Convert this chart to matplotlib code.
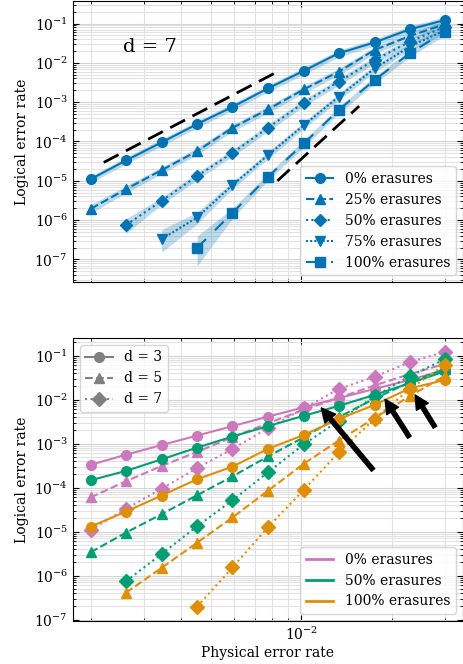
import numpy as np
import matplotlib
matplotlib.use("Agg")
import matplotlib.pyplot as plt
from matplotlib.lines import Line2D
from matplotlib.ticker import LogLocator, NullFormatter, FixedLocator, LogFormatterSciNotation

plt.rcParams.update({
    "font.family": "serif",
    "font.serif": ["DejaVu Serif"],
    "mathtext.fontset": "dejavuserif",
    "font.size": 10,
    "xtick.direction": "in",
    "ytick.direction": "in",
    "xtick.top": True,
    "ytick.right": True,
    "xtick.minor.visible": True,
    "ytick.minor.visible": True,
})

# physical error rates
p_phys = [0.002, 0.00262, 0.00344, 0.00451, 0.00591, 0.00775,
          0.0102, 0.0133, 0.0175, 0.0229, 0.03]

# d = 7 logical error rates for each erasure fraction
d7_e0 = [1.10e-5, 3.30e-5, 9.5e-5, 2.77e-4, 7.6e-4, 2.24e-3,
         6.3e-3, 1.75e-2, 3.3e-2, 7.1e-2, 1.23e-1]
d7_e25 = [1.94e-6, 6.15e-6, 1.87e-5, 5.7e-5, 2.23e-4, 6.56e-4,
          2.12e-3, 5.94e-3, 2.12e-2, 4.8e-2, 9.7e-2]
d7_e50 = [np.nan, 7.46e-7, 3.1e-6, 1.32e-5, 5.15e-5, 2.23e-4,
          9.7e-4, 3.3e-3, 1.18e-2, 3.44e-2, 8.3e-2]
d7_e75 = [np.nan, np.nan, 3.29e-7, 1.17e-6, 7.8e-6, 4.5e-5,
          2.61e-4, 1.37e-3, 7.2e-3, 2.57e-2, 6.8e-2]
d7_e100 = [np.nan, np.nan, np.nan, 1.97e-7, 1.53e-6, 1.26e-5,
           8.95e-5, 6.3e-4, 3.65e-3, 1.75e-2, 6.2e-2]

# d = 3 and d = 5 logical error rates
d3_e0 = [3.3e-4, 5.6e-4, 9.3e-4, 1.52e-3, 2.5e-3, 4.1e-3,
         6.7e-3, 1.08e-2, 1.75e-2, 2.8e-2, 4.7e-2]
d3_e50 = [1.47e-4, 2.4e-4, 4.4e-4, 8.1e-4, 1.45e-3, 2.5e-3,
          4.3e-3, 7.2e-3, 1.28e-2, 2.36e-2, 4.4e-2]
d3_e100 = [1.3e-5, 2.85e-5, 6.6e-5, 1.55e-4, 3.0e-4, 7.6e-4,
           1.58e-3, 3.6e-3, 7.6e-3, 1.8e-2, 2.8e-2]
d5_e0 = [6.0e-5, 1.4e-4, 3.1e-4, 6.5e-4, 1.4e-3, 2.9e-3,
         5.9e-3, 1.1e-2, 2.1e-2, 3.8e-2, 6.5e-2]
d5_e50 = [3.4e-6, 9.5e-6, 2.5e-5, 6.7e-5, 1.8e-4, 5.1e-4,
          1.4e-3, 4.0e-3, 1.05e-2, 2.5e-2, 5.0e-2]
d5_e100 = [np.nan, 4.1e-7, 1.5e-6, 5.6e-6, 2.1e-5, 8.5e-5,
           3.5e-4, 1.17e-3, 3.8e-3, 1.2e-2, 3.5e-2]

erasure_labels = ["0% erasures", "25% erasures", "50% erasures",
                  "75% erasures", "100% erasures"]
distance_labels = ["d = 3", "d = 5", "d = 7"]
y_decades = [1e-7, 1e-6, 1e-5, 1e-4, 1e-3, 1e-2, 1e-1]

# sampling budget behind each point: shots per point, capped failure count
shots = 3e7
max_failures = 100

BLUE = "#0173b2"
PINK = "#cc78bc"
GREEN = "#029e73"
ORANGE = "#de8f05"
GRAY = "#808080"


def poisson_band(vals):
    v = np.asarray(vals, dtype=float)
    k = np.minimum(v * shots, max_failures)
    lo = v * (np.sqrt(k) - 1.0) ** 2 / k
    hi = v * (np.sqrt(k) + 1.0) ** 2 / k
    return lo, hi


def style_axes(ax):
    ax.set_xscale("log")
    ax.set_yscale("log")
    ax.xaxis.set_major_locator(FixedLocator([1e-2]))
    ax.xaxis.set_minor_locator(LogLocator(base=10, subs=np.arange(2, 10)))
    ax.xaxis.set_minor_formatter(NullFormatter())
    ax.yaxis.set_major_locator(FixedLocator(y_decades))
    ax.yaxis.set_major_formatter(LogFormatterSciNotation())
    ax.yaxis.set_minor_locator(LogLocator(base=10, subs=np.arange(2, 10), numticks=20))
    ax.yaxis.set_minor_formatter(NullFormatter())
    ax.grid(True, which="major", color="#d4d4d4", lw=0.8)
    ax.grid(True, which="minor", color="#e2e2e2", lw=0.8)
    ax.set_axisbelow(True)
    ax.tick_params(which="major", length=4, width=0.8)
    ax.tick_params(which="minor", length=2, width=0.6)
    ax.set_xlim(1.745e-3, 0.0343)


fig = plt.figure(figsize=(4.64, 6.64), dpi=100)
ax1 = fig.add_axes([0.157, 0.575, 0.84, 0.4235])
ax2 = fig.add_axes([0.157, 0.0648, 0.84, 0.4262])

# ---- top panel: d = 7 at several erasure fractions ----
top_series = [d7_e0, d7_e25, d7_e50, d7_e75, d7_e100]
top_markers = ["o", "^", "D", "v", "s"]
top_styles = ["-", (0, (4, 1.6)), (0, (1, 1.6)), (0, (1, 1.0)), (0, (6, 6))]
top_msize = [7, 7, 6.5, 7, 7]

ax1.plot([2.21e-3, 8.14e-3], [2.94e-5, 2.94e-5 * (8.14e-3 / 2.21e-3) ** 4],
         color="black", lw=2, dashes=(6, 3))
ax1.plot([8.33e-3, 1.556e-2], [1.0e-5, 1.0e-5 * (1.556e-2 / 8.33e-3) ** 7],
         color="black", lw=2, dashes=(6, 3))

for vals, mk, ls, ms, lab in zip(top_series, top_markers, top_styles,
                                 top_msize, erasure_labels):
    v = np.asarray(vals, dtype=float)
    good = ~np.isnan(v)
    x = np.asarray(p_phys)[good]
    lo, hi = poisson_band(v[good])
    ax1.fill_between(x, lo, hi, color=BLUE, alpha=0.25, lw=0)
    ax1.plot(x, v[good], color=BLUE, marker=mk, ls=ls, lw=1.5, ms=ms,
             label=lab)

style_axes(ax1)
ax1.set_ylim(2.64e-8, 0.374)
ax1.tick_params(axis="x", labelbottom=False)
ax1.set_ylabel("Logical error rate")
ax1.text(0.197, 0.836, "d = 7", transform=ax1.transAxes, fontsize=14,
         ha="center", va="center")
ax1.legend(loc="lower right", fontsize=10, handlelength=2.0,
           borderaxespad=0.5)

# ---- bottom panel: d = 3, 5, 7 at 0, 50 and 100 % erasures ----
groups = [(PINK, [d3_e0, d5_e0, d7_e0]),
          (GREEN, [d3_e50, d5_e50, d7_e50]),
          (ORANGE, [d3_e100, d5_e100, d7_e100])]
dist_markers = ["o", "^", "D"]
dist_styles = ["-", "--", ":"]

for color, series in groups:
    for vals, mk, ls in zip(series, dist_markers, dist_styles):
        v = np.asarray(vals, dtype=float)
        good = ~np.isnan(v)
        ax2.plot(np.asarray(p_phys)[good], v[good], color=color, marker=mk,
                 ls=ls, lw=1.5, ms=7)

style_axes(ax2)
ax2.set_ylim(9.3e-8, 0.252)
ax2.set_xlabel("Physical error rate", labelpad=2)
ax2.set_ylabel("Logical error rate")

arrow_tails = [(0.01731, 2.52e-4), (0.02284, 1.40e-3), (0.02778, 2.36e-3)]
arrow_tips = [(0.01165, 6.47e-3), (0.01897, 1.02e-2), (0.02385, 1.28e-2)]
for tail, tip in zip(arrow_tails, arrow_tips):
    ax2.annotate("", xy=tip, xytext=tail,
                 arrowprops=dict(facecolor="black", edgecolor="black",
                                 width=3, headwidth=10, headlength=10,
                                 shrink=0))

dist_handles = [Line2D([], [], color=GRAY, marker=m, ls=s, lw=1.5, ms=7)
                for m, s in zip(dist_markers, dist_styles)]
leg_d = ax2.legend(dist_handles, distance_labels, loc="upper left",
                   fontsize=10, borderaxespad=0.5)
ax2.add_artist(leg_d)

color_handles = [Line2D([], [], color=c, lw=2) for c in (PINK, GREEN, ORANGE)]
ax2.legend(color_handles, [erasure_labels[0], erasure_labels[2],
                           erasure_labels[4]],
           loc="lower right", fontsize=10, borderaxespad=0.5)

fig.savefig("out.png", dpi=100)
